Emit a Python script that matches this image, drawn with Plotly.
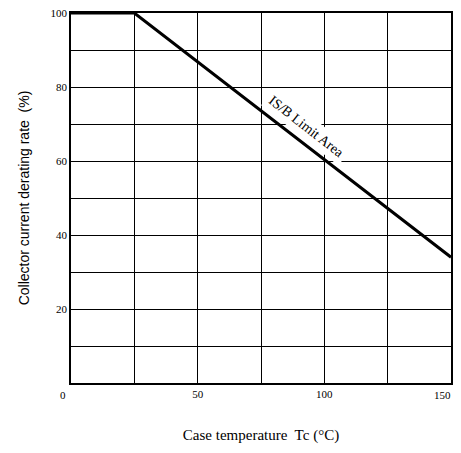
import plotly.graph_objects as go

# derating curve
case_temp = [0, 25, 150]
derating = [100, 100, 34]

x_ticks = [0, 25, 50, 75, 100, 125, 150]
x_labels = ["", "", "50", "", "100", "", ""]
y_ticks = [0, 10, 20, 30, 40, 50, 60, 70, 80, 90, 100]
y_labels = ["", "", "20", "", "40", "", "60", "", "80", "", "100"]

serif = "Liberation Serif, Times New Roman, serif"

fig = go.Figure()
fig.add_trace(go.Scatter(
    x=case_temp, y=derating,
    mode="lines",
    line=dict(color="black", width=3),
    showlegend=False,
))

fig.add_annotation(
    x=92.8, y=69.3, xref="x", yref="y",
    text="IS/B Limit Area", showarrow=False,
    textangle=38, bgcolor="white", borderpad=3,
    font=dict(family=serif, size=14, color="black"),
)
# the shared corner zero
fig.add_annotation(
    x=0, y=0, xref="x", yref="y", text="0", showarrow=False,
    xanchor="right", yanchor="top", xshift=-3, yshift=-4,
    font=dict(family=serif, size=11, color="black"),
)
# last x label sits at the page edge, pull it in a little
fig.add_annotation(
    x=150, y=0, xref="x", yref="y", text="150", showarrow=False,
    xanchor="right", yanchor="top", xshift=2, yshift=-4,
    font=dict(family=serif, size=11, color="black"),
)

fig.update_xaxes(
    range=[0, 150], tickvals=x_ticks, ticktext=x_labels,
    showgrid=True, gridcolor="black", gridwidth=1,
    showline=True, linecolor="black", linewidth=1.5, mirror=True,
    zeroline=False, ticks="", ticklabeloverflow="allow", automargin=False,
    tickfont=dict(family=serif, size=11, color="black"),
    title=dict(text="Case temperature  Tc (°C)", standoff=31,
               font=dict(family=serif, size=15, color="black")),
)
fig.update_yaxes(
    range=[0, 100], tickvals=y_ticks, ticktext=y_labels,
    showgrid=True, gridcolor="black", gridwidth=1,
    showline=True, linecolor="black", linewidth=1.5, mirror=True,
    zeroline=False, ticks="", ticklabeloverflow="allow", automargin=False,
    tickfont=dict(family=serif, size=11, color="black"),
    title=dict(text="Collector current derating rate  (%)", standoff=18,
               font=dict(family="Liberation Sans, Arial, sans-serif", size=14, color="black")),
)

# page body keeps its default 8px margin, so the figure is sized to fit inside it
fig.update_layout(
    width=453, height=437,
    margin=dict(l=63, r=10, t=5, b=62),
    plot_bgcolor="white", paper_bgcolor="white",
)

fig.write_html("out.html")
